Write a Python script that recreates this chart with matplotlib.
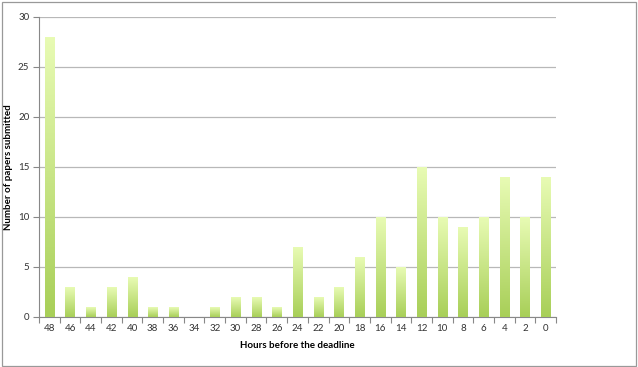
import matplotlib
matplotlib.use("Agg")
import matplotlib.pyplot as plt
import numpy as np
from matplotlib.patches import Rectangle
from matplotlib.colors import LinearSegmentedColormap

hours = ["48", "46", "44", "42", "40", "38", "36", "34", "32", "30", "28", "26", "24",
         "22", "20", "18", "16", "14", "12", "10", "8", "6", "4", "2", "0"]
papers = [28, 3, 1, 3, 4, 1, 1, 0, 1, 2, 2, 1, 7, 2, 3, 6, 10, 5, 15, 10, 9, 10, 14, 10, 14]
yticks = [0, 5, 10, 15, 20, 25, 30]

plt.rcParams['font.family'] = ['Lato', 'DejaVu Sans']

fig = plt.figure(figsize=(6.38, 3.67), dpi=100)
ax = fig.add_axes([39/638, 50/367, (556-39)/638, (317-17)/367])

x = np.arange(len(hours))
bars = ax.bar(x, papers, width=0.44, color='none', edgecolor='none', zorder=3)

cmap = LinearSegmentedColormap.from_list('g', ['#a8cf58', '#e8fbb4'])
grad = np.linspace(0, 1, 256).reshape(-1, 1)
for b in bars:
    h = b.get_height()
    if h <= 0:
        continue
    x0 = b.get_x()
    w = b.get_width()
    ax.imshow(grad, cmap=cmap, origin='lower', aspect='auto',
              extent=[x0, x0 + w, 0, h], zorder=3, interpolation='bilinear')

ax.set_xlim(-0.5, len(hours) - 0.5)
ax.set_ylim(0, 30)
ax.set_xticks(x)
ax.set_xticklabels(hours)
ax.set_xticks(np.arange(len(hours) + 1) - 0.5, minor=True)
ax.tick_params(axis='x', which='major', length=0, labelsize=7, pad=5, colors='#333333')
ax.tick_params(axis='x', which='minor', length=4, color='#888888', width=0.8)
ax.set_yticks(yticks)
ax.tick_params(axis='y', length=4, color='#888888', width=0.8, labelsize=7, pad=3,
               labelcolor='#333333')

ax.grid(axis='y', color='#b8b8b8', linewidth=0.9, zorder=0)
ax.set_axisbelow(True)
for s in ['top', 'right']:
    ax.spines[s].set_visible(False)
for s in ['left', 'bottom']:
    ax.spines[s].set_color('#888888')
    ax.spines[s].set_linewidth(0.8)

ax.set_xlabel("Hours before the deadline", fontsize=7, fontweight='bold', labelpad=6)
ax.set_ylabel("Number of papers submitted", fontsize=7, fontweight='bold')
ax.yaxis.set_label_coords(-26/517, 0.5)

fig.patches.append(Rectangle((1.5/638, 1.5/367), 634/638, 364/367, transform=fig.transFigure,
                             fill=False, edgecolor='#999999', linewidth=0.9))

fig.savefig("out.png", dpi=100)
